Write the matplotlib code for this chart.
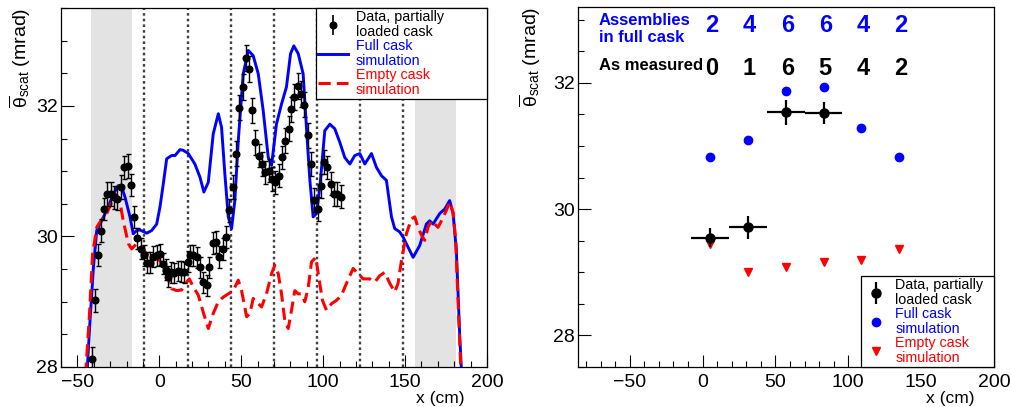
import numpy as np
import matplotlib
matplotlib.use('Agg')
import matplotlib.pyplot as plt
from matplotlib.lines import Line2D
from matplotlib.ticker import MultipleLocator

plt.rcParams['font.family'] = ['Liberation Sans', 'DejaVu Sans']
plt.rcParams['mathtext.fontset'] = 'custom'
plt.rcParams['mathtext.rm'] = 'Liberation Sans'
plt.rcParams['mathtext.it'] = 'Liberation Sans:italic'

BLUE = '#0000ff'
RED = '#ff0000'

# ---- left panel: scan along x ----
full_x = [-44.8, -43.9, -42.3, -40.2, -38.2, -35.2, -32.1, -28.0, -25.0, -23.0,
          -20.9, -17.9, -15.9, -13.8, -11.8, -7.7, -4.7, -1.6, 0.4, 2.4,
          4.5, 7.5, 9.6, 12.6, 14.6, 17.7, 21.7, 24.8, 27.2, 29.9,
          32.9, 36.0, 38.0, 40.0, 42.1, 44.1, 46.1, 48.2, 51.2, 54.3,
          57.3, 60.4, 63.4, 66.5, 68.5, 71.5, 74.6, 77.6, 80.1, 82.1,
          84.8, 87.8, 89.8, 91.9, 93.9, 95.9, 98.0, 101.0, 104.1, 107.1,
          110.2, 113.2, 116.3, 119.3, 122.4, 125.4, 129.5, 132.5, 135.6, 138.6,
          141.7, 143.7, 146.7, 148.8, 154.9, 158.9, 163.0, 165.0, 167.1, 169.1,
          171.1, 174.2, 177.2, 179.3, 181.3, 183.3, 184.3, 184.8]
full_y = [27.6, 28.0, 28.71, 29.53, 30.09, 30.24, 30.40, 30.65, 30.78, 30.76,
          30.6, 30.30, 30.04, 30.09, 30.10, 30.05, 30.09, 30.19, 30.45, 30.8,
          31.19, 31.24, 31.24, 31.33, 31.32, 31.27, 31.11, 30.91, 30.68, 30.83,
          31.57, 31.88, 31.67, 30.96, 30.30, 30.12, 30.55, 31.47, 32.49, 32.85,
          32.77, 32.49, 31.93, 31.21, 31.09, 31.72, 32.03, 32.29, 32.80, 32.92,
          32.80, 32.49, 31.67, 30.86, 30.30, 30.35, 30.76, 31.62, 31.72, 31.65,
          31.44, 31.21, 31.11, 31.24, 31.27, 31.11, 31.27, 31.06, 30.93, 30.86,
          30.30, 30.12, 30.07, 29.99, 29.68, 29.86, 30.19, 30.24, 30.19, 30.27,
          30.35, 30.42, 30.55, 30.35, 29.79, 28.51, 28.0, 27.6]

empty_x = [-45.2, -44.7, -42.7, -40.7, -38.2, -36.2, -32.1, -27.0, -24.4, -22.0,
           -18.9, -16.9, -13.8, -10.8, -7.7, -3.7, 0.4, 4.5, 7.5, 10.6,
           13.6, 16.7, 18.3, 20.7, 23.8, 26.8, 29.9, 32.9, 36.0, 39.0,
           42.1, 45.1, 48.2, 50.2, 53.3, 55.3, 57.3, 59.3, 62.4, 65.4,
           68.5, 70.5, 72.6, 74.6, 76.6, 78.7, 80.7, 82.7, 84.8, 86.8,
           88.8, 90.9, 92.9, 95.5, 97.6, 99.6, 102.0, 105.1, 108.1, 111.2,
           114.2, 118.3, 121.3, 124.4, 128.5, 131.5, 134.6, 137.6, 140.7, 143.7,
           145.7, 147.8, 150.8, 153.9, 155.9, 157.9, 160.0, 162.0, 164.0, 166.1,
           168.1, 170.1, 172.2, 175.2, 177.2, 179.3, 180.9, 182.3, 184.0, 184.6]
empty_y = [27.6, 28.0, 28.77, 29.73, 30.14, 30.22, 30.35, 30.65, 30.58, 30.24,
           29.89, 29.81, 29.89, 29.84, 29.73, 29.68, 29.63, 29.43, 29.20, 29.17,
           29.18, 29.30, 29.35, 29.23, 29.10, 28.84, 28.59, 28.82, 29.0, 29.07,
           29.12, 29.17, 29.33, 29.17, 28.77, 28.82, 29.05, 29.0, 28.92, 29.12,
           29.43, 29.56, 29.43, 29.12, 28.71, 28.59, 28.87, 29.17, 29.12, 29.12,
           29.0, 29.22, 29.61, 29.68, 29.33, 29.02, 28.87, 28.97, 29.02, 29.10,
           29.28, 29.51, 29.43, 29.35, 29.35, 29.30, 29.40, 29.45, 29.28, 29.15,
           29.28, 29.63, 30.04, 30.27, 30.30, 30.14, 30.02, 29.94, 30.14, 30.24,
           30.19, 30.14, 30.24, 30.40, 30.53, 30.37, 29.94, 29.02, 28.0, 27.6]

data_x = [-41.1, -39.0, -37.6, -35.6, -33.5, -31.7, -29.7, -27.6, -25.6, -23.6,
          -21.3, -19.3, -17.5, -15.4, -13.4, -11.4, -9.3, -7.7, -5.7, -3.7,
          -1.6, 0.4, 2.0, 4.1, 5.5, 7.1, 9.1, 11.2, 13.2, 15.2,
          17.3, 18.7, 20.7, 22.8, 24.8, 26.8, 28.9, 30.5, 32.5, 34.6,
          36.6, 38.6, 40.7, 42.7, 44.7, 46.7, 48.8, 50.8, 52.8, 54.5,
          56.5, 58.5, 60.6, 62.6, 64.6, 66.7, 68.7, 70.7, 72.8, 74.8,
          76.8, 78.9, 80.5, 82.5, 84.6, 86.6, 88.6, 90.7, 92.7, 94.7,
          96.7, 98.8, 100.4, 102.4, 104.5, 106.5, 108.5, 110.6]
data_y = [28.13, 29.02, 29.71, 30.09, 30.42, 30.65, 30.65, 30.60, 30.58, 30.76,
          31.06, 31.08, 30.79, 30.30, 29.97, 29.81, 29.71, 29.60, 29.60, 29.69,
          29.71, 29.73, 29.58, 29.49, 29.38, 29.45, 29.44, 29.47, 29.46, 29.45,
          29.61, 29.71, 29.71, 29.68, 29.53, 29.30, 29.25, 29.53, 29.90, 29.91,
          29.68, 29.81, 29.99, 30.40, 30.76, 31.27, 31.97, 32.29, 32.73, 32.57,
          31.93, 31.44, 31.24, 31.11, 30.98, 31.01, 30.88, 30.83, 30.93, 31.21,
          31.47, 31.65, 31.95, 32.14, 32.31, 32.18, 32.02, 31.55, 31.11, 30.56,
          30.42, 30.77, 31.14, 31.06, 30.81, 30.65, 30.65, 30.61]
data_err = [0.18, 0.18, 0.17, 0.17, 0.17, 0.18, 0.18, 0.18, 0.18, 0.18,
            0.18, 0.18, 0.17, 0.17, 0.16, 0.16, 0.16, 0.16, 0.16, 0.16,
            0.16, 0.16, 0.16, 0.16, 0.16, 0.16, 0.16, 0.16, 0.16, 0.16,
            0.16, 0.16, 0.16, 0.16, 0.16, 0.16, 0.16, 0.16, 0.17, 0.17,
            0.17, 0.17, 0.17, 0.18, 0.18, 0.19, 0.19, 0.2, 0.2, 0.2,
            0.19, 0.19, 0.18, 0.18, 0.18, 0.18, 0.18, 0.18, 0.18, 0.18,
            0.19, 0.19, 0.19, 0.2, 0.2, 0.2, 0.19, 0.19, 0.18, 0.18,
            0.18, 0.18, 0.18, 0.18, 0.18, 0.18, 0.18, 0.18]

shade_bands = [(-41.6, -16.6), (155.9, 180.9)]
bin_edges = [-9.1, 17.6, 43.8, 70.1, 96.1, 122.3, 148.7]

# ---- right panel: per assembly column ----
centers = [5, 31, 57, 83, 109, 135]
full_sim = [30.83, 31.10, 31.87, 31.94, 31.28, 30.83]
empty_sim = [29.44, 29.00, 29.08, 29.16, 29.20, 29.37]
meas_x = [5, 31, 57, 83]
meas_y = [29.55, 29.71, 31.53, 31.52]
meas_err = [0.15, 0.18, 0.20, 0.18]
meas_halfwidth = 13
assemblies_full = [2, 4, 6, 6, 4, 2]
as_measured = [0, 1, 6, 5, 4, 2]

labels = ['Data, partially\nloaded cask', 'Full cask\nsimulation',
          'Empty cask\nsimulation']
label_colors = ['k', BLUE, RED]

W, H = 1012, 407
fig = plt.figure(figsize=(W / 100, H / 100), dpi=100)
ax1 = fig.add_axes([61 / W, 1 - 367 / H, 426 / W, 359 / H])
ax2 = fig.add_axes([578 / W, 1 - 367 / H, 416 / W, 360 / H])


def style(ax):
    ax.tick_params(which='both', direction='in', top=False, right=False,
                   labelsize=14, width=0.8)
    ax.tick_params(which='major', length=9)
    ax.tick_params(which='minor', length=4.5)
    ax.tick_params(axis='x', pad=5)
    ax.tick_params(axis='y', pad=2)
    ax.xaxis.set_major_locator(MultipleLocator(50))
    ax.xaxis.set_minor_locator(MultipleLocator(10))
    ax.yaxis.set_major_locator(MultipleLocator(2))
    ax.yaxis.set_minor_locator(MultipleLocator(0.5))
    for s in ax.spines.values():
        s.set_linewidth(0.9)


def fix_legend(leg):
    leg.get_frame().set_linewidth(0.9)
    leg.set_zorder(10)
    for t, c in zip(leg.get_texts(), label_colors):
        t.set_color(c)
        t.set_linespacing(1.1)


# left
for a, b in shade_bands:
    ax1.axvspan(a, b, color='#e3e3e3', lw=0, zorder=0)
for e in bin_edges:
    ax1.axvline(e, color='#404040', lw=1.7, ls=(0, (1.1, 1.3)), zorder=1)
l_full, = ax1.plot(full_x, full_y, color=BLUE, lw=2.1, zorder=3)
l_empty, = ax1.plot(empty_x, empty_y, color=RED, lw=2.2, dashes=(4, 2), zorder=4)
ax1.errorbar(data_x, data_y, yerr=data_err, fmt='o', color='k', ms=4.8,
             elinewidth=1, capsize=1.8, capthick=1, zorder=5)
ax1.set_xlim(-60, 200)
ax1.set_ylim(28, 33.5)
style(ax1)

h_data = Line2D([], [], color='k', marker='o', ms=4.8, lw=0)
h_bar = Line2D([], [], color='k', marker='|', ms=14, markeredgewidth=1.2, ls='')
leg1 = ax1.legend([(h_bar, h_data), l_full, l_empty], labels, loc='upper left',
                  bbox_to_anchor=(255 / 426, 0, 171 / 426, 1), mode='expand',
                  borderaxespad=0, fontsize=10.3, fancybox=False, edgecolor='k',
                  framealpha=1, borderpad=0.12, labelspacing=0.0,
                  handlelength=2.1, handletextpad=0.55)
fix_legend(leg1)

# right
ax2.errorbar(meas_x, meas_y, xerr=meas_halfwidth, yerr=meas_err, fmt='o',
             color='k', ms=6.5, elinewidth=1.6, capsize=0, zorder=5)
p_full, = ax2.plot(centers, full_sim, 'o', color=BLUE, ms=6, zorder=4)
p_empty, = ax2.plot(centers, empty_sim, 'v', color=RED, ms=6, zorder=4)
ax2.set_xlim(-85.5, 200)
ax2.set_ylim(27.5, 33.2)
style(ax2)

ax2.text(-71.4, 32.91, 'Assemblies', color=BLUE, fontsize=12,
         fontweight='bold', ha='left', va='baseline')
ax2.text(-71.4, 32.64, 'in full cask', color=BLUE, fontsize=12,
         fontweight='bold', ha='left', va='baseline')
ax2.text(-71.4, 32.21, 'As measured', color='k', fontsize=12,
         fontweight='bold', ha='left', va='baseline')
for c, n in zip(centers, assemblies_full):
    ax2.text(c + 1.2, 32.80, str(n), color=BLUE, fontsize=17,
             fontweight='bold', ha='center', va='baseline')
for c, n in zip(centers, as_measured):
    ax2.text(c + 1.2, 32.12, str(n), color='k', fontsize=17,
             fontweight='bold', ha='center', va='baseline')

h_data2 = Line2D([], [], color='k', marker='o', ms=6.5, lw=0)
h_bar2 = Line2D([], [], color='k', marker='|', ms=16, markeredgewidth=1.6, ls='')
leg2 = ax2.legend([(h_bar2, h_data2), p_full, p_empty], labels, loc='lower left',
                  bbox_to_anchor=(282.7 / 416, 0, 133.3 / 416, 1), mode='expand',
                  borderaxespad=0, fontsize=10.3, fancybox=False, edgecolor='k',
                  framealpha=1, borderpad=0.12, labelspacing=0.0,
                  handlelength=1.9, handletextpad=0.4)
fix_legend(leg2)

ylab = r'$\overline{\mathrm{\theta}}_{\mathrm{scat}}$ (mrad)'
fig.text(20 / W, 1 - 8 / H, ylab, rotation=90, ha='center', va='top', fontsize=14)
fig.text(530 / W, 1 - 7 / H, ylab, rotation=90, ha='center', va='top', fontsize=14)
fig.text(465 / W, 1 - 398 / H, 'x (cm)', ha='right', va='center', fontsize=12.5)
fig.text(975 / W, 1 - 398 / H, 'x (cm)', ha='right', va='center', fontsize=12.5)

fig.savefig('out.png', dpi=100)
